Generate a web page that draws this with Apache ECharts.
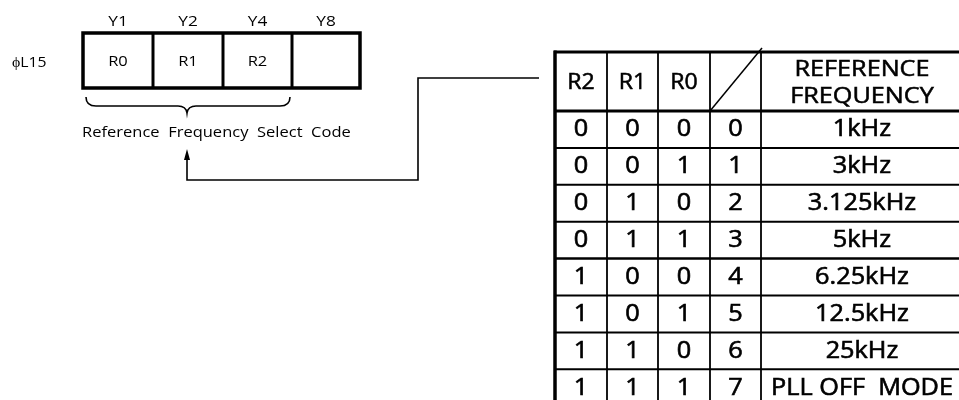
<!DOCTYPE html>
<html>
<head>
<meta charset="utf-8">
<script src="https://cdn.jsdelivr.net/npm/echarts@6/dist/echarts.min.js"></script>
<style>html,body{margin:0;padding:0;background:#fff;}#c{width:959px;height:400px;}</style>
</head>
<body>
<div id="c"></div>
<script>
// ---- data ----
const registerName = '\u03D5L15';
const registerPins = ['Y1', 'Y2', 'Y4', 'Y8'];
const registerBits = ['R0', 'R1', 'R2', ''];
const codeLabel = 'Reference  Frequency  Select  Code';
const tableHeader = ['R2', 'R1', 'R0', '', 'REFERENCE\nFREQUENCY'];
const colR2 = [0, 0, 0, 0, 1, 1, 1, 1];
const colR1 = [0, 0, 1, 1, 0, 0, 1, 1];
const colR0 = [0, 1, 0, 1, 0, 1, 0, 1];
const codeIndex = [0, 1, 2, 3, 4, 5, 6, 7];
const refFreq = ['1kHz', '3kHz', '3.125kHz', '5kHz', '6.25kHz', '12.5kHz', '25kHz', 'PLL OFF  MODE'];

// ---- layout (drawing-space units, mapped through the axes) ----
const FONT = 'Open Sans';
const regX = [83, 153, 223, 292, 360], regTop = 33, regBot = 88;
const colX = [555, 607, 658, 710, 761, 963], tTop = 52, hBot = 111, rowH = 36.9;

const chart = echarts.init(document.getElementById('c'), null, {renderer: 'canvas'});

function mk(api) {
  const P = (x, y) => api.coord([x, y]);
  return {
    line(x1, y1, x2, y2, w) {
      const a = P(x1, y1), b = P(x2, y2);
      return {type: 'line', shape: {x1: a[0], y1: a[1], x2: b[0], y2: b[1]}, style: {stroke: '#000', lineWidth: w, lineCap: 'butt'}};
    },
    text(x, y, s, size, opt) {
      opt = opt || {};
      const a = P(x, y);
      const st = {text: String(s), fill: '#000', font: 'normal ' + size + 'px "' + FONT + '"',
        align: opt.align || 'center', verticalAlign: 'middle', lineHeight: opt.lh || size * 1.3};
      if (opt.bold) { st.stroke = '#000'; st.lineWidth = opt.bold; }
      return {type: 'text', x: a[0], y: a[1], scaleX: opt.sx || 1.12, style: st};
    },
    P
  };
}

const series = [
  // register box
  {
    type: 'custom', coordinateSystem: 'cartesian2d', silent: true, clip: false,
    data: registerBits.map((b, i) => [i]),
    renderItem(params, api) {
      const m = mk(api), i = api.value(0), ch = [];
      const cx = (regX[i] + regX[i + 1]) / 2;
      ch.push(m.text(cx, 22, registerPins[i], 15, {sx: 1.15}));
      ch.push(m.text(cx, 61.5, registerBits[i], 15, {sx: 1.1}));
      if (i > 0) ch.push(m.line(regX[i], regTop, regX[i], regBot, 3));
      if (i === 0) {
        ch.push(m.text(12, 63, registerName, 15, {align: 'left', sx: 1.05}));
        const a = m.P(regX[0], regTop), b = m.P(regX[4], regBot);
        ch.push({type: 'rect', shape: {x: a[0], y: a[1], width: b[0] - a[0], height: b[1] - a[1]}, style: {fill: 'none', stroke: '#000', lineWidth: 3.5}});
        // brace
        const p = (x, y) => m.P(x, y).join(' ');
        const d = 'M' + p(86, 97) + ' Q' + p(86, 106) + ' ' + p(96, 106) +
          ' L' + p(178, 106) + ' Q' + p(186, 106) + ' ' + p(187, 113) +
          ' Q' + p(188, 106) + ' ' + p(196, 106) + ' L' + p(280, 106) +
          ' Q' + p(290, 106) + ' ' + p(290, 97);
        ch.push({type: 'path', shape: {pathData: d}, style: {fill: 'none', stroke: '#000', lineWidth: 1.6}});
        ch.push(m.text(82, 133, codeLabel, 15, {align: 'left', sx: 1.1}));
        // connector
        const q = [[539, 78], [418, 78], [418, 180], [187, 180], [187, 158]].map(v => m.P(v[0], v[1]));
        ch.push({type: 'polyline', shape: {points: q}, style: {fill: 'none', stroke: '#000', lineWidth: 1.6}});
        const t = m.P(187, 149), l = m.P(184, 160), r = m.P(190, 160);
        ch.push({type: 'polygon', shape: {points: [t, l, r]}, style: {fill: '#000'}});
      }
      return {type: 'group', children: ch};
    }
  },
  // table frame + header
  {
    type: 'custom', coordinateSystem: 'cartesian2d', silent: true, clip: false,
    data: [[0]],
    renderItem(params, api) {
      const m = mk(api), ch = [];
      const bottom = hBot + rowH * refFreq.length;
      for (let i = 0; i < refFreq.length; i++) {
        const y = hBot + rowH * (i + 1);
        ch.push(m.line(colX[0], y, colX[5], y, i === 3 ? 2.5 : 2));
      }
      for (let c = 1; c < 5; c++) ch.push(m.line(colX[c], tTop, colX[c], bottom, 1.8));
      ch.push(m.line(colX[0] - 1, tTop, colX[5], tTop, 3.2));
      ch.push(m.line(colX[0], hBot, colX[5], hBot, 3));
      ch.push(m.line(colX[0], tTop - 1.5, colX[0], bottom, 3.5));
      ch.push(m.line(colX[3], hBot, colX[4] + 1, 48, 1.5));
      for (let c = 0; c < 5; c++) {
        if (!tableHeader[c]) continue;
        if (c === 4) ch.push(m.text(862, 84, tableHeader[c], 21, {sx: 1.2, lh: 27, bold: 0.5}));
        else ch.push(m.text((colX[c] + colX[c + 1]) / 2, 83, tableHeader[c], 21, {sx: 1.1, bold: 0.5}));
      }
      return {type: 'group', children: ch};
    }
  },
  // table rows
  {
    type: 'custom', coordinateSystem: 'cartesian2d', silent: true, clip: false,
    data: codeIndex.map((v, i) => [i]),
    renderItem(params, api) {
      const m = mk(api), i = api.value(0);
      const y = hBot + rowH * (i + 0.5) + 0.5;
      const vals = [colR2[i], colR1[i], colR0[i], codeIndex[i], refFreq[i]];
      return {type: 'group', children: vals.map((v, c) => m.text(c === 4 ? 862 : (colX[c] + colX[c + 1]) / 2, y, v, 23, {sx: 1.1, bold: 0.6}))};
    }
  }
];

chart.setOption({
  animation: false,
  backgroundColor: '#fff',
  grid: {left: 0, right: 0, top: 0, bottom: 0},
  xAxis: {type: 'value', min: 0, max: 959, show: false},
  yAxis: {type: 'value', min: 0, max: 400, inverse: true, show: false},
  series
});
</script>
</body>
</html>
